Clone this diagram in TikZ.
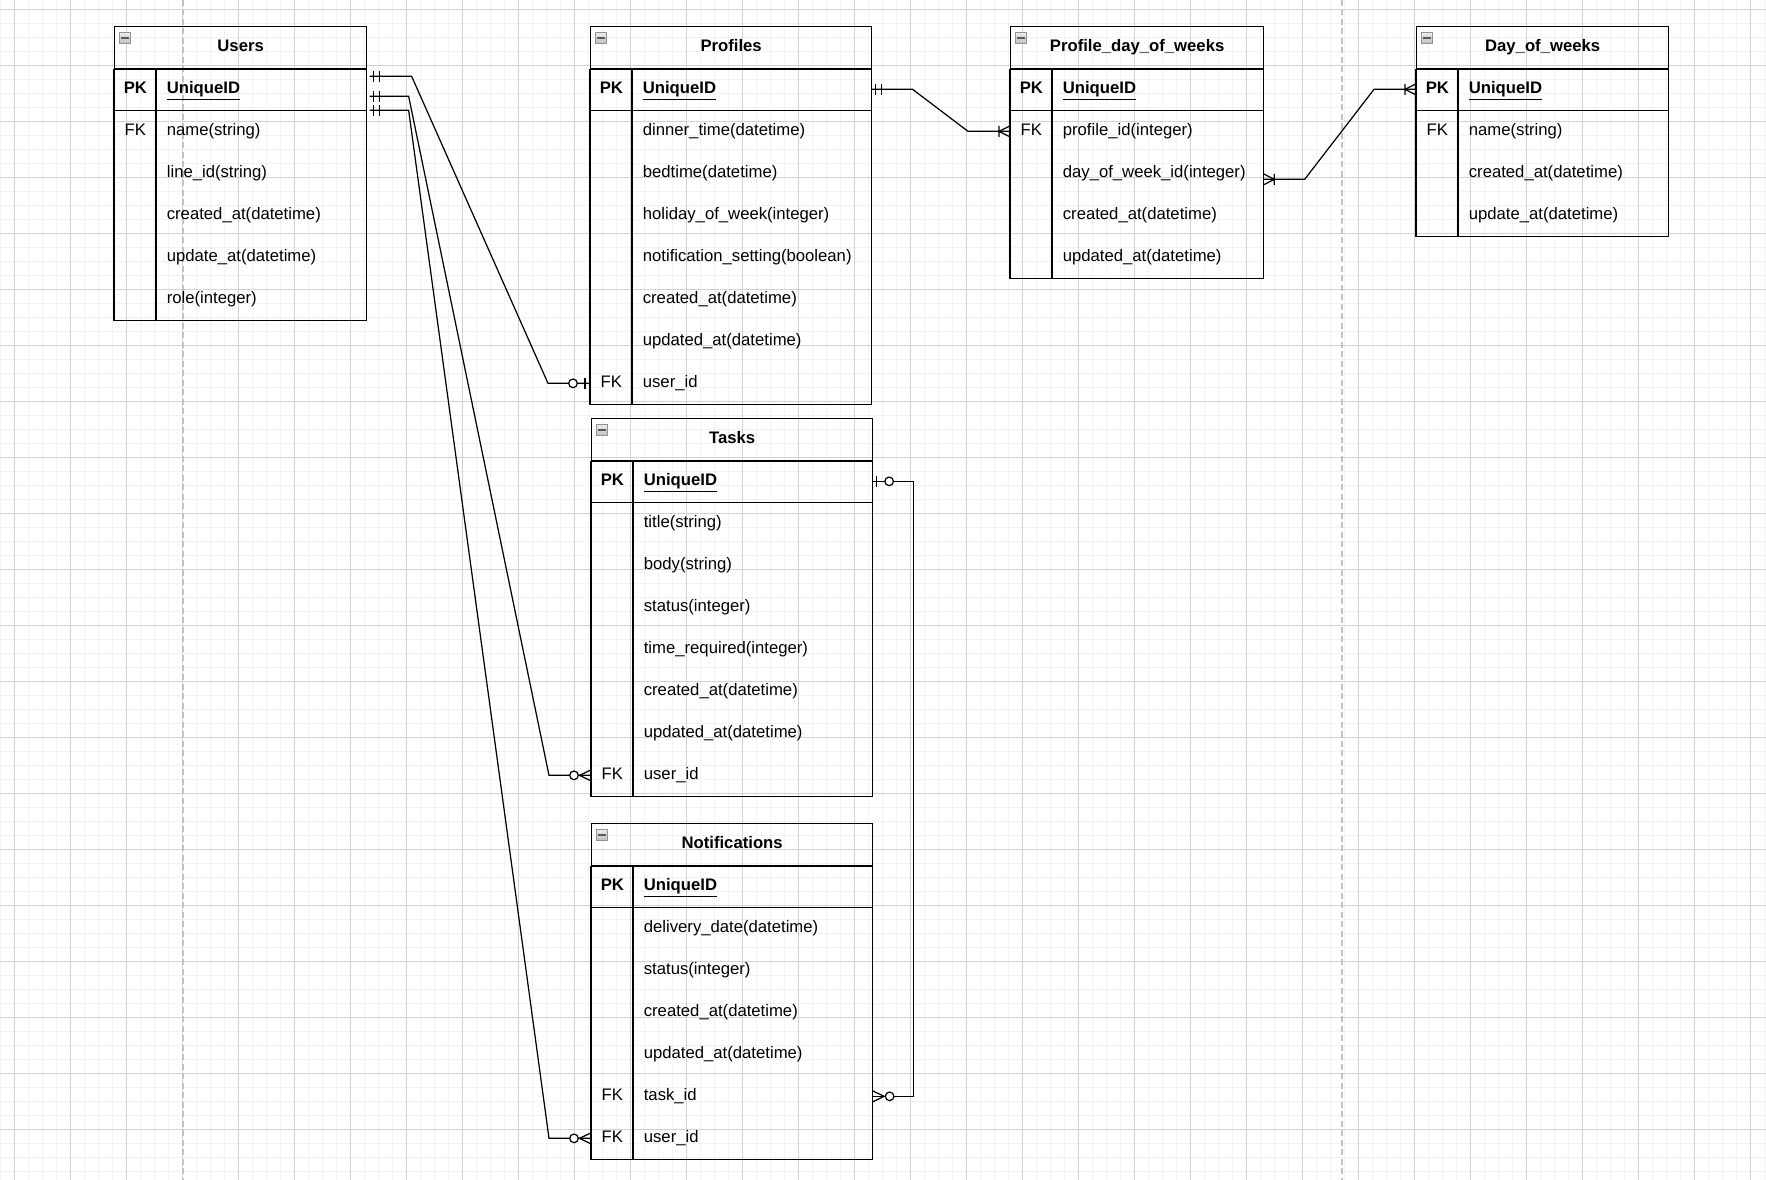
\documentclass[tikz,border=0pt]{standalone}
\usepackage{fontspec}
\setmainfont{Liberation Sans}
\usetikzlibrary{decorations.markings}

\definecolor{gridmincol}{HTML}{F2F2F2}
\definecolor{gridmajcol}{HTML}{D2D2D2}
\definecolor{breakcol}{HTML}{C2C2C2}

% table: name, x, y, width, title, last row, rows
\newcommand{\ertable}[7]{
  \node[tblhead, minimum width=#4] (#1) at (#2,#3) {#5};
  \draw[tblicon] ([shift={(5,6)}]#1.north west) rectangle ++(11,11);
  \fill[black!65] ([shift={(6.5,10.5)}]#1.north west) rectangle ++(8,2);
  \foreach \kind/\txt [count=\i from 0] in {#7}
    \node[tblrow, text width=#4] (#1-\i) at (#2,#3+42+42*\i) {\makebox[0.84cm]{\kind}\hspace{0.21cm}\txt};
  \draw[tblline] (#1.south west) rectangle (#1-#6.south east);
  \draw[tblline] (#1-0.south west) -- (#1-0.south east);
  \draw[tblline] ([xshift=0.84cm]#1.south west) -- ([xshift=0.84cm]#1-#6.south west);
}

\begin{document}
\begin{tikzpicture}[
    x=0.02cm, y=-0.02cm,
    gridmin/.style={gridmincol, line width=0.8pt},
    gridmaj/.style={gridmajcol, line width=0.55pt},
    pagebreak/.style={breakcol, line width=1.1pt, dash pattern=on 0.12cm off 0.07cm},
    tblline/.style={line width=0.75pt},
    tblhead/.style={
        draw,
        line width=0.75pt,
        anchor=north west,
        inner sep=0pt,
        minimum height=0.84cm,
        text height=0.24cm,
        text depth=0.08cm,
        font=\fontsize{9.5}{11.4}\selectfont\bfseries
    },
    tblrow/.style={
        anchor=north west,
        inner sep=0pt,
        minimum height=0.84cm,
        text height=0.24cm,
        text depth=0.08cm,
        align=left,
        font=\fontsize{9.5}{11.4}\selectfont
    },
    tblicon/.style={draw=gray!85, top color=gray!12, bottom color=gray!50, line width=0.4pt},
    rel/.style={line width=0.7pt},
    start one/.style={postaction={decorate, decoration={markings,
        mark=at position 0.08cm with {\draw (0,-0.11cm) -- (0,0.11cm);},
        mark=at position 0.2cm with {\draw (0,-0.11cm) -- (0,0.11cm);}}}},
    start zero one/.style={postaction={decorate, decoration={markings,
        mark=at position 0.08cm with {\draw (0,-0.11cm) -- (0,0.11cm);},
        mark=at position 0.33cm with {\draw[fill=white] (0,0) circle (0.086cm);}}}},
    start one many/.style={postaction={decorate, decoration={markings,
        mark=at position 0.21cm with {\draw (0,-0.11cm) -- (0,0.11cm) (-0.21cm,-0.11cm) -- (0,0) -- (-0.21cm,0.11cm);}}}},
    end zero one/.style={postaction={decorate, decoration={markings,
        mark=at position -0.1cm with {\draw (0,-0.11cm) -- (0,0.11cm);},
        mark=at position -0.34cm with {\draw[fill=white] (0,0) circle (0.086cm);}}}},
    end zero many/.style={postaction={decorate, decoration={markings,
        mark=at position -0.23cm with {\draw (0.23cm,-0.11cm) -- (0,0) -- (0.23cm,0.11cm);},
        mark=at position -0.34cm with {\draw[fill=white] (0,0) circle (0.086cm);}}}},
    end one many/.style={postaction={decorate, decoration={markings,
        mark=at position -0.22cm with {\draw (0,-0.11cm) -- (0,0.11cm) (0.22cm,-0.11cm) -- (0,0) -- (0.22cm,0.11cm);}}}}
]
\useasboundingbox (0,0) rectangle (1766,1180);
\fill[white] (0,0) rectangle (1766,1180);
\foreach \g in {0,...,126} \draw[gridmin] (0.7+14*\g,0) -- ++(0,1180);
\foreach \g in {0,...,84} \draw[gridmin] (0,9.3+14*\g) -- ++(1766,0);
\foreach \g in {0,...,31} \draw[gridmaj] (14.7+56*\g,0) -- ++(0,1180);
\foreach \g in {0,...,20} \draw[gridmaj] (0,9.3+56*\g) -- ++(1766,0);
\draw[pagebreak] (182.7,0) -- ++(0,1180);
\draw[pagebreak] (1341.7,0) -- ++(0,1180);

\ertable{users}{114}{26}{5.04cm}{Users}{5}{
  \textbf{PK}/\underline{\textbf{UniqueID}}, FK/name(string), {}/line\_id(string),
  {}/created\_at(datetime), {}/update\_at(datetime), {}/role(integer)}
\ertable{profiles}{590}{26}{5.62cm}{Profiles}{7}{
  \textbf{PK}/\underline{\textbf{UniqueID}}, {}/dinner\_time(datetime), {}/bedtime(datetime),
  {}/holiday\_of\_week(integer), {}/notification\_setting(boolean), {}/created\_at(datetime),
  {}/updated\_at(datetime), FK/user\_id}
\ertable{pdow}{1010}{26}{5.06cm}{Profile\_day\_of\_weeks}{4}{
  \textbf{PK}/\underline{\textbf{UniqueID}}, FK/profile\_id(integer), {}/day\_of\_week\_id(integer),
  {}/created\_at(datetime), {}/updated\_at(datetime)}
\ertable{dow}{1416}{26}{5.04cm}{Day\_of\_weeks}{3}{
  \textbf{PK}/\underline{\textbf{UniqueID}}, FK/name(string), {}/created\_at(datetime),
  {}/update\_at(datetime)}
\ertable{tasks}{591}{418}{5.62cm}{Tasks}{7}{
  \textbf{PK}/\underline{\textbf{UniqueID}}, {}/title(string), {}/body(string), {}/status(integer),
  {}/time\_required(integer), {}/created\_at(datetime), {}/updated\_at(datetime), FK/user\_id}
\ertable{notices}{591}{823}{5.62cm}{Notifications}{6}{
  \textbf{PK}/\underline{\textbf{UniqueID}}, {}/delivery\_date(datetime), {}/status(integer),
  {}/created\_at(datetime), {}/updated\_at(datetime), FK/task\_id, FK/user\_id}

\draw[rel, start one, end zero one] ([shift={(3,-13)}]users-0.east) -- ++(42,0)
    -- ([shift={(-42,0)}]profiles-7.west) -- (profiles-7.west);
\draw[rel, start one, end zero many] ([shift={(3,7)}]users-0.east) -- ++(39,0)
    -- ([shift={(-42,0)}]tasks-7.west) -- (tasks-7.west);
\draw[rel, start one, end zero many] ([shift={(3,21)}]users-0.east) -- ++(39,0)
    -- ([shift={(-42,0)}]notices-6.west) -- (notices-6.west);
\draw[rel, start one, end one many] (profiles-0.east) -- ++(41,0)
    -- ([shift={(-42,0)}]pdow-1.west) -- (pdow-1.west);
\draw[rel, start one many, end one many] ([shift={(0,6)}]pdow-2.east) -- ++(41,0)
    -- ([shift={(-42,0)}]dow-0.west) -- (dow-0.west);
\draw[rel, start zero one, end zero many] (tasks-0.east) -- ++(41,0) |- (notices-5.east);
\end{tikzpicture}
\end{document}
